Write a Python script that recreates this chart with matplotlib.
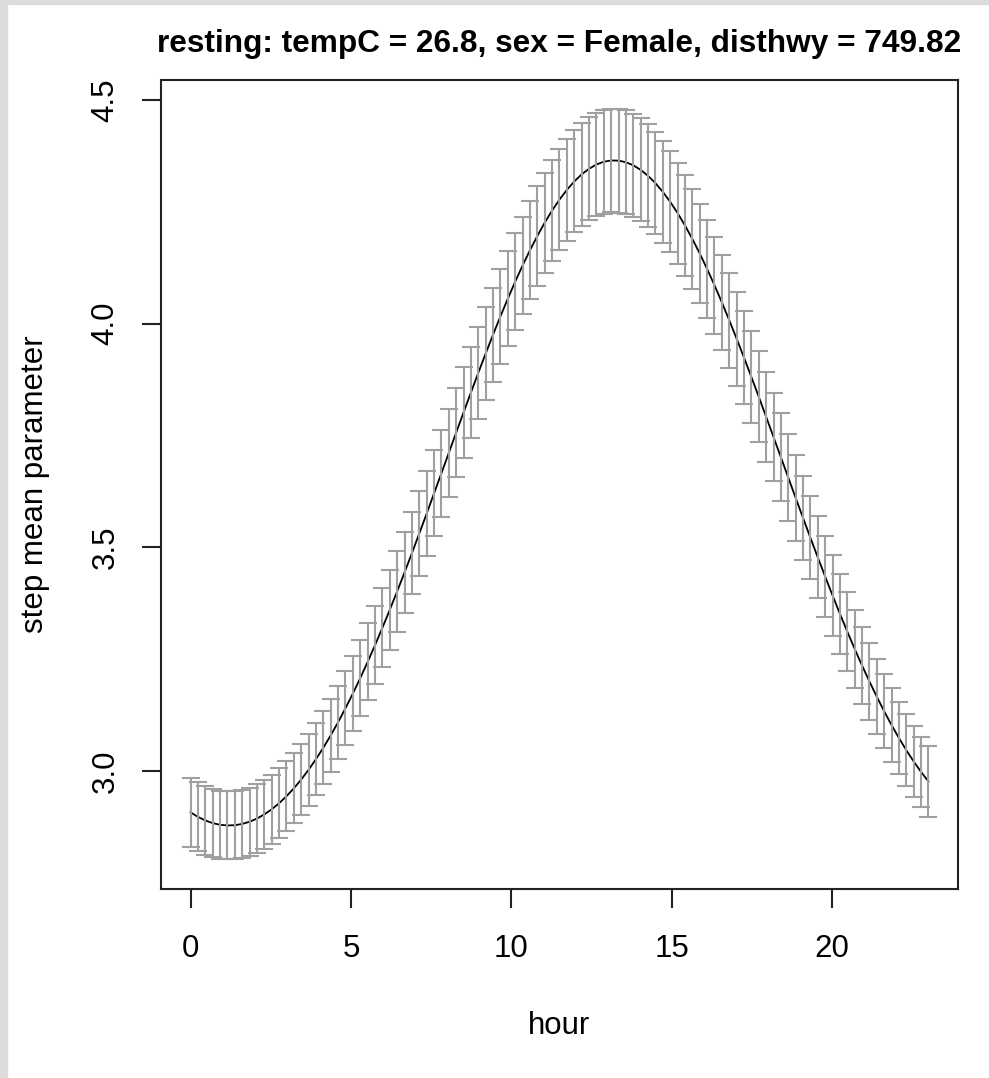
import numpy as np
import matplotlib.pyplot as plt
from matplotlib.patches import Rectangle

plt.rcParams['font.family'] = ['Liberation Sans', 'DejaVu Sans']

# griglia delle ore (101 punti tra 0 e 23)
hour = np.linspace(0, 23, 101)

# media stimata del parametro di passo
step_mean = [
    2.9075, 2.8973, 2.8893, 2.8833, 2.8796, 2.8781, 2.8787, 2.8815, 2.8864, 2.8935,
    2.9028, 2.9142, 2.9277, 2.9434, 2.9611, 2.9808, 3.0026, 3.0264, 3.0520, 3.0796,
    3.1090, 3.1402, 3.1731, 3.2076, 3.2437, 3.2812, 3.3201, 3.3602, 3.4015, 3.4438,
    3.4870, 3.5310, 3.5755, 3.6206, 3.6658, 3.7112, 3.7566, 3.8017, 3.8463, 3.8904,
    3.9336, 3.9757, 4.0167, 4.0562, 4.0942, 4.1303, 4.1645, 4.1964, 4.2260, 4.2532,
    4.2777, 4.2994, 4.3181, 4.3339, 4.3465, 4.3560, 4.3622, 4.3651, 4.3647, 4.3611,
    4.3542, 4.3440, 4.3307, 4.3143, 4.2948, 4.2726, 4.2475, 4.2198, 4.1897, 4.1572,
    4.1226, 4.0861, 4.0478, 4.0079, 3.9667, 3.9243, 3.8809, 3.8367, 3.7919, 3.7467,
    3.7014, 3.6560, 3.6107, 3.5658, 3.5214, 3.4776, 3.4346, 3.3925, 3.3514, 3.3115,
    3.2729, 3.2357, 3.2000, 3.1658, 3.1333, 3.1025, 3.0735, 3.0463, 3.0210, 2.9977,
    2.9763,
]

# semi-ampiezza dell'intervallo di confidenza
ci_half = [
    0.077, 0.077, 0.077, 0.076, 0.076, 0.076, 0.076, 0.076, 0.076, 0.077,
    0.077, 0.077, 0.078, 0.078, 0.078, 0.079, 0.080, 0.080, 0.081, 0.082,
    0.082, 0.083, 0.084, 0.085, 0.086, 0.087, 0.088, 0.089, 0.090, 0.091,
    0.092, 0.094, 0.095, 0.096, 0.097, 0.098, 0.100, 0.101, 0.102, 0.103,
    0.104, 0.105, 0.106, 0.107, 0.108, 0.109, 0.110, 0.111, 0.112, 0.113,
    0.113, 0.114, 0.114, 0.115, 0.115, 0.115, 0.116, 0.116, 0.116, 0.116,
    0.115, 0.115, 0.115, 0.114, 0.114, 0.113, 0.113, 0.112, 0.111, 0.110,
    0.109, 0.108, 0.107, 0.106, 0.105, 0.104, 0.103, 0.102, 0.100, 0.099,
    0.098, 0.097, 0.096, 0.094, 0.093, 0.092, 0.091, 0.090, 0.089, 0.088,
    0.087, 0.086, 0.085, 0.084, 0.083, 0.082, 0.081, 0.081, 0.080, 0.079,
    0.079,
]

x_ticks = [0, 5, 10, 15, 20]
y_ticks = [3.0, 3.5, 4.0, 4.5]

fig = plt.figure(figsize=(9.89, 10.78), dpi=100)
ax = fig.add_axes([161 / 989, 1 - 889 / 1078, (958 - 161) / 989, (889 - 80) / 1078])

# cornice grigia dello screenshot
fig.patches.append(Rectangle((0, 1 - 4 / 1078), 1, 4 / 1078, transform=fig.transFigure,
                             color='#dcdcdc', zorder=0))
fig.patches.append(Rectangle((0, 0), 7 / 989, 1, transform=fig.transFigure,
                             color='#dcdcdc', zorder=0))

ax.plot(hour, step_mean, color='black', linewidth=1.3, zorder=2)
ax.errorbar(hour, step_mean, yerr=ci_half, fmt='none', ecolor='#a0a0a0',
            elinewidth=1.5, capsize=6.5, capthick=1.5, zorder=3)

ax.set_xlim(-0.92, 23.92)
ax.set_ylim(2.736, 4.545)
ax.set_xticks(x_ticks)
ax.set_yticks(y_ticks)
ax.set_xticklabels([str(t) for t in x_ticks])
ax.set_yticklabels([f"{t:.1f}" for t in y_ticks], rotation=90, va='center')

for s in ax.spines.values():
    s.set_linewidth(1.5)
    s.set_color('#222222')
ax.tick_params(axis='both', length=14, width=1.5, color='#222222', labelsize=22.5)
ax.tick_params(axis='x', pad=18.5)
ax.tick_params(axis='y', pad=15)

ax.set_title("resting: tempC = 26.8, sex = Female, disthwy = 749.82",
             fontsize=22.8, fontweight='bold', pad=20)
ax.set_xlabel("hour", fontsize=22.5, labelpad=34)
ax.set_ylabel("step mean parameter", fontsize=22.5, labelpad=29.5)

fig.savefig("out.png", dpi=100)
